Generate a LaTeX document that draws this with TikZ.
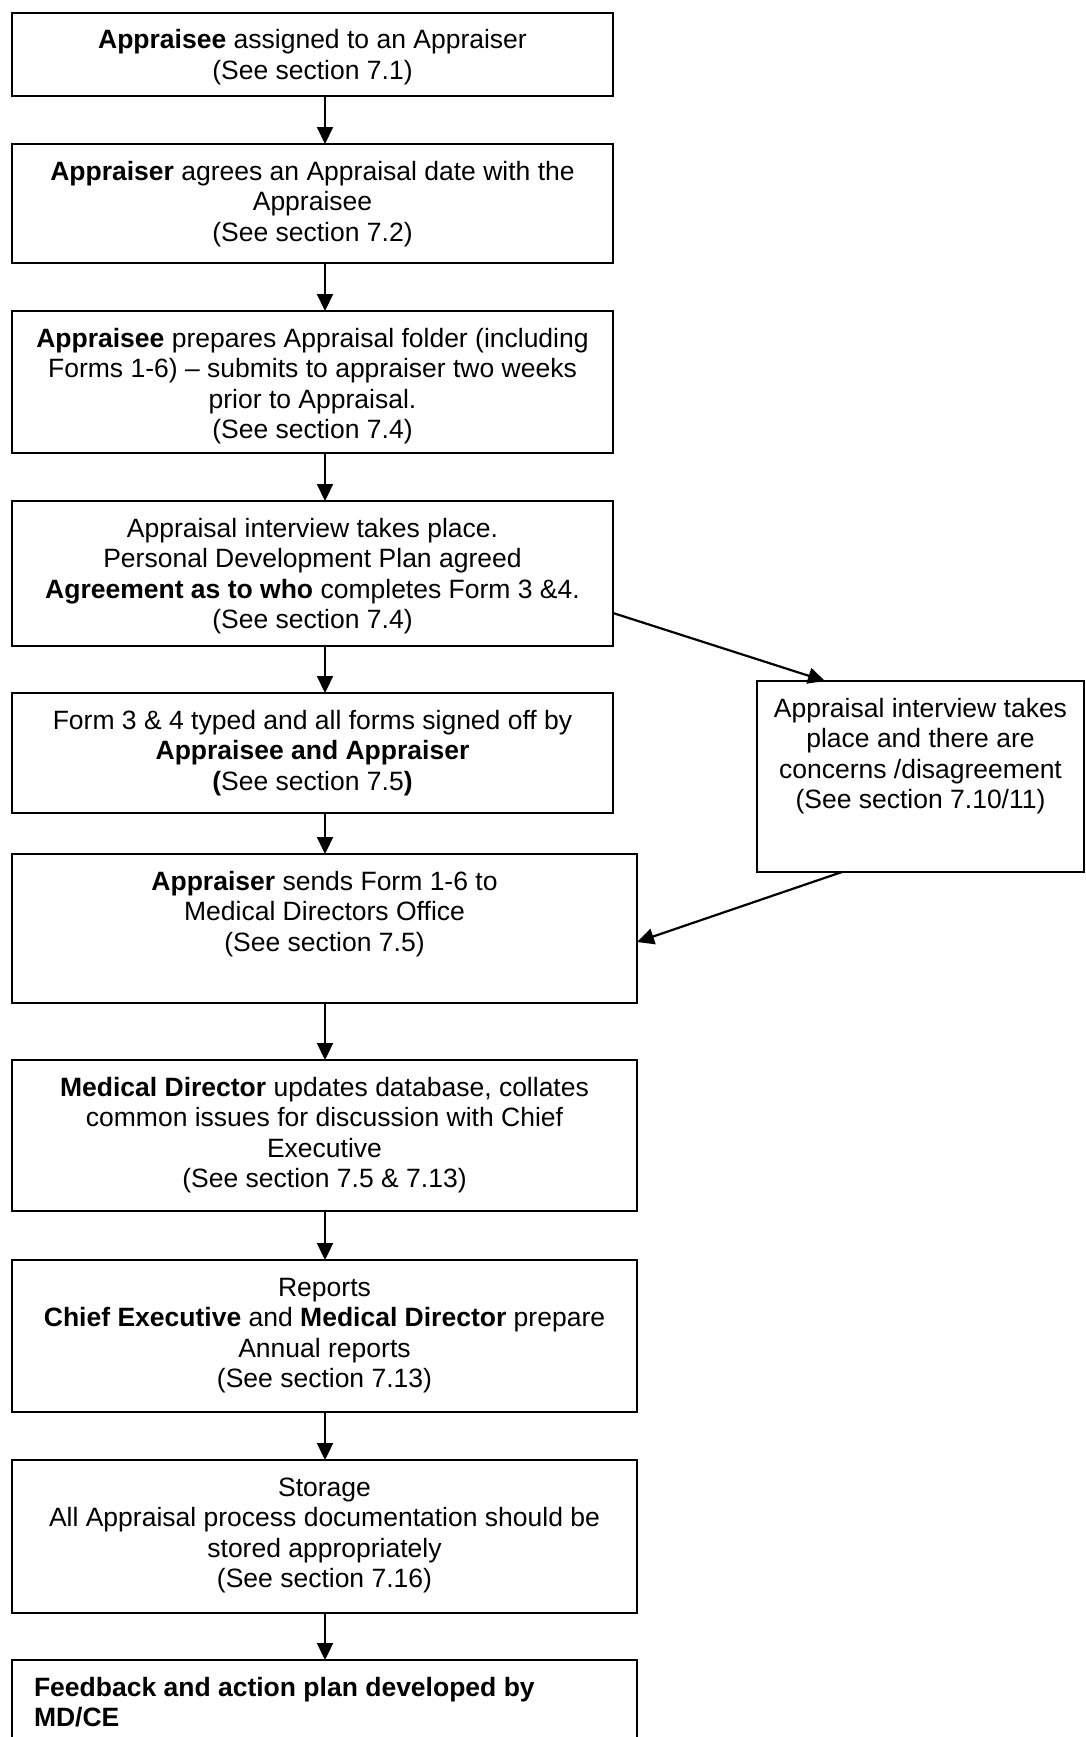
\documentclass[tikz,border=0pt]{standalone}
\usepackage{fontspec}
\setmainfont{Liberation Sans}
\usetikzlibrary{arrows.meta,calc}
\begin{document}
\begin{tikzpicture}[x=1pt,y=-1pt,
  flowbox/.style={draw=black,line width=2pt,rectangle,inner sep=0pt,outer sep=0pt,anchor=north west},
  txt/.style={inner sep=0pt,outer sep=0pt,anchor=north,font=\fontsize{26.5}{30.5}\selectfont},
  arr/.style={line width=2.2pt,-{Triangle[length=17pt,width=16pt]}}
]
\useasboundingbox (0,0) rectangle (1085,1737);
\clip (0,0) rectangle (1085,1737);
\fill[white] (0,0) rectangle (1085,1737);

% boxes
\node[flowbox,minimum width=601pt,minimum height=83pt]  (b1) at (12,13)   {};
\node[flowbox,minimum width=601pt,minimum height=119pt] (b2) at (12,144)  {};
\node[flowbox,minimum width=601pt,minimum height=142pt] (b3) at (12,311)  {};
\node[flowbox,minimum width=601pt,minimum height=145pt] (b4) at (12,501)  {};
\node[flowbox,minimum width=601pt,minimum height=120pt] (b5) at (12,693)  {};
\node[flowbox,minimum width=625pt,minimum height=149pt] (b6) at (12,854)  {};
\node[flowbox,minimum width=625pt,minimum height=151pt] (b7) at (12,1060) {};
\node[flowbox,minimum width=625pt,minimum height=152pt] (b8) at (12,1260) {};
\node[flowbox,minimum width=625pt,minimum height=153pt] (b9) at (12,1460) {};
\node[flowbox,minimum width=625pt,minimum height=95pt]  (b10) at (12,1660) {};
\node[flowbox,minimum width=327pt,minimum height=191pt] (sb) at (757,681) {};

% texts
\node[txt] (t1) at ([yshift=-14.65pt]b1.north) {\begin{tabular}{@{}c@{}}\textbf{Appraisee} assigned to an Appraiser\\(See section 7.1)\end{tabular}};
\node[txt] (t2) at ([yshift=-14.65pt]b2.north) {\begin{tabular}{@{}c@{}}\textbf{Appraiser} agrees an Appraisal date with the\\Appraisee\\(See section 7.2)\end{tabular}};
\node[txt] (t3) at ([yshift=-14.65pt]b3.north) {\begin{tabular}{@{}c@{}}\textbf{Appraisee} prepares Appraisal folder (including\\Forms 1-6) – submits to appraiser two weeks\\prior to Appraisal.\\(See section 7.4)\end{tabular}};
\node[txt] (t4) at ([yshift=-14.65pt]b4.north) {\begin{tabular}{@{}c@{}}Appraisal interview takes place.\\Personal Development Plan agreed\\\textbf{Agreement as to who} completes Form 3 \&4.\\(See section 7.4)\end{tabular}};
\node[txt] (t5) at ([yshift=-14.65pt]b5.north) {\begin{tabular}{@{}c@{}}Form 3 \& 4 typed and all forms signed off by\\\textbf{Appraisee and Appraiser}\\\textbf{(}See section 7.5\textbf{)}\end{tabular}};
\node[txt] (t6) at ([yshift=-14.65pt]b6.north) {\begin{tabular}{@{}c@{}}\textbf{Appraiser} sends Form 1-6 to\\Medical Directors Office\\(See section 7.5)\end{tabular}};
\node[txt] (t7) at ([yshift=-14.65pt]b7.north) {\begin{tabular}{@{}c@{}}\textbf{Medical Director} updates database, collates\\common issues for discussion with Chief\\Executive\\(See section 7.5 \& 7.13)\end{tabular}};
\node[txt] (t8) at ([yshift=-14.65pt]b8.north) {\begin{tabular}{@{}c@{}}Reports\\\textbf{Chief Executive} and \textbf{Medical Director} prepare\\Annual reports\\(See section 7.13)\end{tabular}};
\node[txt] (t9) at ([yshift=-14.65pt]b9.north) {\begin{tabular}{@{}c@{}}Storage\\All Appraisal process documentation should be\\stored appropriately\\(See section 7.16)\end{tabular}};
\node[txt,anchor=north west] (t10) at ([xshift=22pt,yshift=-14.65pt]b10.north west) {\begin{tabular}{@{}l@{}}\textbf{Feedback and action plan developed by}\\\textbf{MD/CE}\end{tabular}};
\node[txt] (ts) at ([yshift=-14.65pt]sb.north) {\begin{tabular}{@{}c@{}}Appraisal interview takes\\place and there are\\concerns /disagreement\\(See section 7.10/11)\end{tabular}};

% connectors
\coordinate (ax) at (325,0);
\draw[arr] (b1.south -| ax) -- (b2.north -| ax);
\draw[arr] (b2.south -| ax) -- (b3.north -| ax);
\draw[arr] (b3.south -| ax) -- (b4.north -| ax);
\draw[arr] (b4.south -| ax) -- (b5.north -| ax);
\draw[arr] (b5.south -| ax) -- (b6.north -| ax);
\draw[arr] (b6.south -| ax) -- (b7.north -| ax);
\draw[arr] (b7.south -| ax) -- (b8.north -| ax);
\draw[arr] (b8.south -| ax) -- (b9.north -| ax);
\draw[arr] (b9.south -| ax) -- (b10.north -| ax);
\draw[arr] ([yshift=33pt]b4.south east) -- ([xshift=68pt]sb.north west);
\draw[arr] ([xshift=85pt]sb.south west) -- ([yshift=-88pt]b6.north east);
\end{tikzpicture}
\end{document}
